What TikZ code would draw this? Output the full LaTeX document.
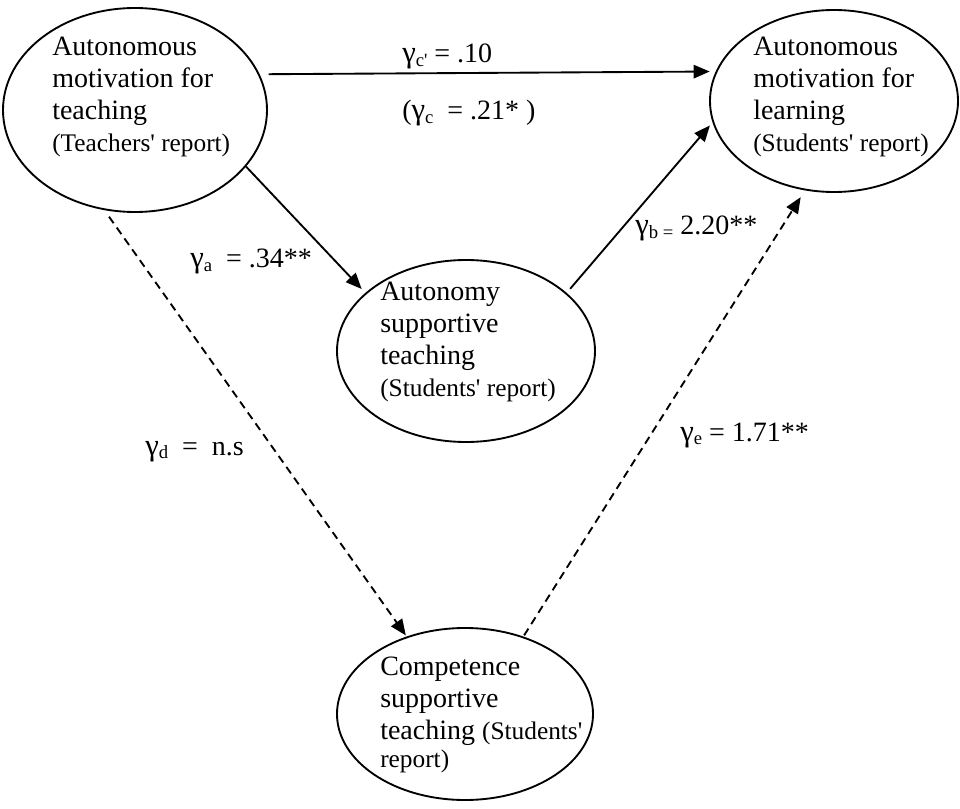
\documentclass[tikz,border=0pt]{standalone}
\usepackage{fontspec}
\setmainfont{Liberation Serif}[Ligatures=TeXOff]
\usetikzlibrary{shapes.geometric,arrows.meta}
\newcommand{\lsub}[1]{\raisebox{-2.5pt}{\fontsize{14}{16}\selectfont #1}}
\newcommand{\gam}{{\fontsize{23}{24}\selectfont γ}}
\newcommand{\mainsz}{\fontsize{21}{24}\selectfont}
\newcommand{\smallsz}{\fontsize{19}{24}\selectfont}
\begin{document}
\begin{tikzpicture}[x=0.75pt,y=-0.75pt,
  latent/.style={ellipse, draw, line width=1.4pt, inner sep=0pt},
  txt/.style={anchor=north west, inner sep=0pt, align=left, font=\mainsz},
  lbl/.style={anchor=base west, inner sep=0pt, font=\mainsz},
  arr/.style={-{Triangle[length=12pt,width=10pt]}, line width=1.4pt},
  dsh/.style={arr, dash pattern=on 6pt off 4pt}]
\useasboundingbox (0,0) rectangle (960,809);
% ellipses
\node[latent, minimum width=198pt, minimum height=153pt] (t) at (135,110) {};
\node[latent, minimum width=186pt, minimum height=136.5pt] (r) at (834,101) {};
\node[latent, minimum width=193.5pt, minimum height=136.5pt] (m) at (466,351) {};
\node[latent, minimum width=192pt, minimum height=129pt] (b) at (465,714) {};
% texts
\node[txt] (tt) at (52,33.67) {\rule{0pt}{16pt}Autonomous\\motivation for\\teaching\\{\smallsz (Teachers' report)}};
\node[txt] (rt) at (753,33.67) {\rule{0pt}{16pt}Autonomous\\motivation for\\learning\\{\smallsz (Students' report)}};
\node[txt] (mt) at (380,278.67) {\rule{0pt}{16pt}Autonomy\\supportive\\teaching\\{\smallsz (Students' report)}};
\node[txt] (bt) at (380,653.67) {\rule{0pt}{16pt}Competence\\supportive\\teaching {\smallsz (Students'}\\[-3pt]{\smallsz report)}};
% connectors
\draw[arr, shorten <=6.75pt, shorten >=4.5pt] (t.16.7) -- (r.166.7);
\draw[arr, shorten >=4pt] (t.-27.4) -- (m.150.1);
\draw[arr, shorten <=4pt, shorten >=3pt] (m.30.8) -- (r.190);
\draw[dsh, shorten <=6pt, shorten >=1pt] (t.253.5) -- (b.127.2);
\draw[dsh, shorten <=1pt, shorten >=6pt] (b.53.7) -- (r.252.3);
% labels
\node[lbl] (lc1) at (402,63) {\gam\lsub{c'} = .10};
\node[lbl] (lc2) at (402,120) {(\gam\lsub{c}\ \ = .21* )};
\node[lbl] (la) at (190,268) {\gam\lsub{a}\ \ = .34**};
\node[lbl] (lb) at (635,235) {\gam\lsub{b =} 2.20**};
\node[lbl] (ld) at (145,455) {\gam\lsub{d}\ \ = \ n.s};
\node[lbl] (le) at (680,441) {\gam\lsub{e} = 1.71**};
\end{tikzpicture}
\end{document}
